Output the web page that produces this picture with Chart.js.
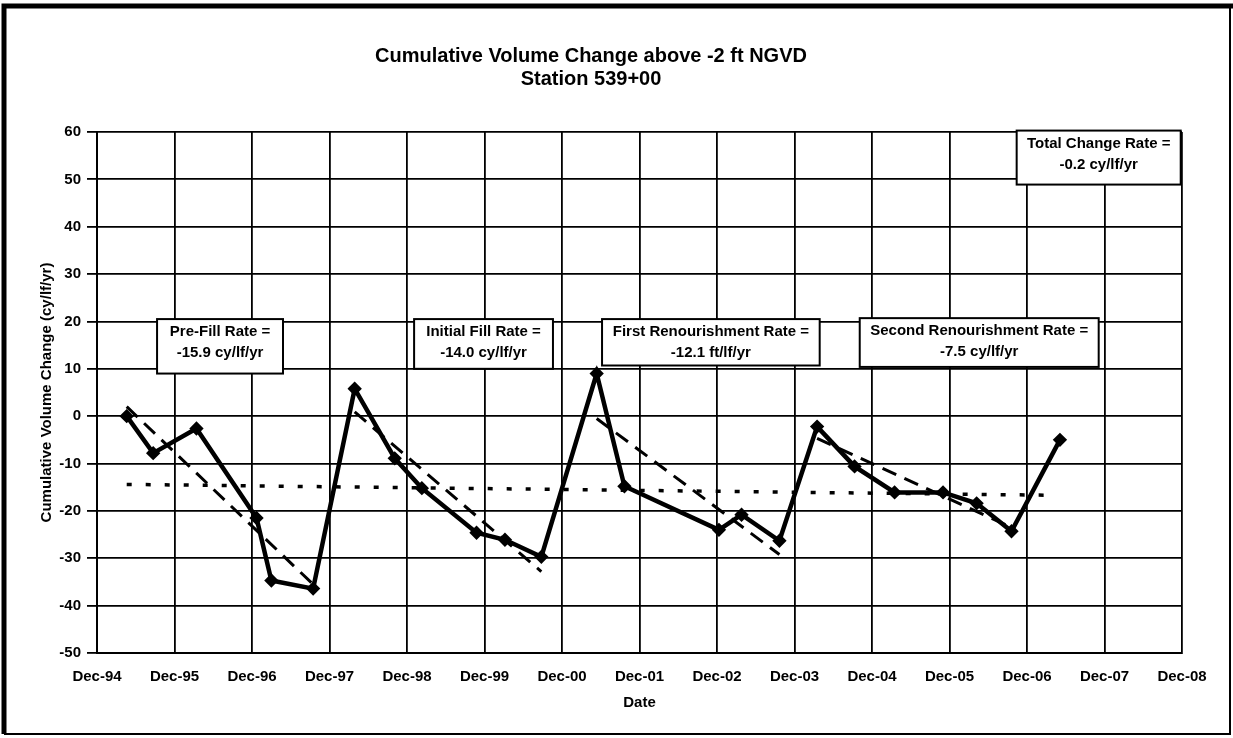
<!DOCTYPE html>
<html>
<head>
<meta charset="utf-8">
<script src="https://cdn.jsdelivr.net/npm/chart.js@4.4.0/dist/chart.umd.min.js"></script>
<style>
  html, body { margin: 0; padding: 0; background: #fff; }
  #wrap { width: 1233px; height: 738px; }
</style>
</head>
<body>
<div id="wrap"><canvas id="volChart" width="1233" height="738"></canvas></div>
<script>
// --- survey dates and cumulative volume change (cy/lf/yr)
const surveyDates = [
  "1995-04-19", "1995-08-22", "1996-03-13", "1996-12-22", "1997-03-01",
  "1997-09-15", "1998-03-28", "1998-10-04", "1999-02-10", "1999-10-24",
  "2000-03-06", "2000-08-25", "2001-05-12", "2001-09-21", "2002-12-10",
  "2003-03-25", "2003-09-21", "2004-03-16", "2004-09-10", "2005-03-16",
  "2005-11-01", "2006-04-07", "2006-09-19", "2007-05-04"
];
const volumeChange = [
  0, -7.8, -2.6, -21.5, -34.7,
  -36.4, 5.8, -8.9, -15.2, -24.6,
  -26.1, -29.7, 9.0, -14.8, -24.0,
  -20.8, -26.3, -2.2, -10.6, -16.1,
  -16.1, -18.4, -24.3, -5.0
];

// --- fitted rate lines (end points)
const preFillDates = ["1995-04-19", "1997-09-15"];
const preFillTrend = [2.0, -35.5];
const initialFillDates = ["1998-03-28", "2000-08-25"];
const initialFillTrend = [0.9, -32.8];
const firstRenourDates = ["2001-05-12", "2003-09-21"];
const firstRenourTrend = [-0.5, -29.2];
const secondRenourDates = ["2004-03-16", "2006-09-19"];
const secondRenourTrend = [-4.7, -23.5];
const totalDates = ["1995-04-19", "2007-04-16"];
const totalTrend = [-14.4, -16.7];

// --- axis labels
const xTickLabels = [
  "Dec-94", "Dec-95", "Dec-96", "Dec-97", "Dec-98", "Dec-99", "Dec-00",
  "Dec-01", "Dec-02", "Dec-03", "Dec-04", "Dec-05", "Dec-06", "Dec-07", "Dec-08"
];
const yMin = -50;
const yMax = 60;

// --- rate boxes: text plus placement in axis units (months, cy/lf/yr)
const rateBoxes = [
  { lines: ["Pre-Fill Rate =", "-15.9 cy/lf/yr"], x0: 9.3, x1: 28.8, yTop: 20.5, yBot: 9.0 },
  { lines: ["Initial Fill Rate =", "-14.0 cy/lf/yr"], x0: 49.1, x1: 70.6, yTop: 20.5, yBot: 10.0 },
  { lines: ["First Renourishment Rate =", "-12.1 ft/lf/yr"], x0: 78.2, x1: 111.9, yTop: 20.5, yBot: 10.7 },
  { lines: ["Second Renourishment Rate =", "-7.5 cy/lf/yr"], x0: 118.1, x1: 155.1, yTop: 20.7, yBot: 10.4 },
  { lines: ["Total Change Rate =", "-0.2 cy/lf/yr"], x0: 142.4, x1: 167.8, yTop: 60.3, yBot: 48.9 }
];

const FONT = "'Liberation Sans', Arial, sans-serif";

function monthsFromDec94(s) {
  const [y, m, d] = s.split("-").map(Number);
  return (y - 1994) * 12 + (m - 12) + (d - 1) / 30;
}

function toPoints(dates, vals) {
  return dates.map((d, i) => ({ x: monthsFromDec94(d), y: vals[i] }));
}

function trendSet(dates, vals, dash, width) {
  return {
    data: toPoints(dates, vals),
    borderColor: "#000",
    borderWidth: width,
    borderDash: dash,
    pointRadius: 0,
    fill: false
  };
}

// frame round the whole picture + the white rate boxes
const extrasPlugin = {
  id: "extras",
  beforeDraw(chart) {
    const ctx = chart.ctx;
    ctx.save();
    ctx.fillStyle = "#fff";
    ctx.fillRect(0, 0, chart.width, chart.height);
    ctx.strokeStyle = "#000";
    ctx.lineWidth = 5;
    ctx.beginPath();
    ctx.moveTo(4, chart.height - 4);
    ctx.lineTo(4, 6);
    ctx.lineTo(chart.width, 6);
    ctx.stroke();
    ctx.lineWidth = 2;
    ctx.beginPath();
    ctx.moveTo(4, chart.height - 4);
    ctx.lineTo(chart.width - 3, chart.height - 4);
    ctx.lineTo(chart.width - 3, 6);
    ctx.stroke();
    ctx.restore();
  },
  afterDatasetsDraw(chart) {
    const ctx = chart.ctx;
    const xs = chart.scales.x;
    const ys = chart.scales.y;
    ctx.save();
    rateBoxes.forEach(b => {
      const left = xs.getPixelForValue(b.x0);
      const right = xs.getPixelForValue(b.x1);
      const top = ys.getPixelForValue(b.yTop);
      const bot = ys.getPixelForValue(b.yBot);
      ctx.fillStyle = "#fff";
      ctx.fillRect(left, top, right - left, bot - top);
      ctx.strokeStyle = "#000";
      ctx.lineWidth = 2;
      ctx.strokeRect(left, top, right - left, bot - top);
      ctx.fillStyle = "#000";
      ctx.font = "bold 15px " + FONT;
      ctx.textAlign = "center";
      ctx.textBaseline = "middle";
      const cx = (left + right) / 2;
      ctx.fillText(b.lines[0], cx, top + 13);
      ctx.fillText(b.lines[1], cx, top + 34);
    });
    ctx.restore();
  }
};

new Chart(document.getElementById("volChart"), {
  type: "line",
  data: {
    datasets: [
      {
        data: toPoints(surveyDates, volumeChange),
        borderColor: "#000",
        borderWidth: 4.5,
        pointStyle: "rectRot",
        pointRadius: 4,
        pointBackgroundColor: "#000",
        pointBorderColor: "#000",
        tension: 0,
        fill: false
      },
      trendSet(preFillDates, preFillTrend, [15, 9], 3),
      trendSet(initialFillDates, initialFillTrend, [15, 9], 3),
      trendSet(firstRenourDates, firstRenourTrend, [15, 9], 3),
      trendSet(secondRenourDates, secondRenourTrend, [15, 9], 3),
      trendSet(totalDates, totalTrend, [5, 14], 3.5)
    ]
  },
  options: {
    responsive: false,
    animation: false,
    devicePixelRatio: 1,
    layout: { padding: { left: 0, right: 51, top: 0, bottom: 0 } },
    plugins: {
      legend: { display: false },
      tooltip: { enabled: false },
      title: {
        display: true,
        text: ["Cumulative Volume Change above -2 ft NGVD", "Station 539+00"],
        color: "#000",
        font: { family: FONT, size: 20, weight: "bold", lineHeight: 1.15 },
        padding: { top: 45, bottom: 41 }
      }
    },
    scales: {
      x: {
        type: "linear",
        min: 0,
        max: 168,
        afterFit: s => { s.height = 85; },
        ticks: {
          stepSize: 12,
          color: "#000",
          padding: 15,
          font: { family: FONT, size: 15, weight: "bold" },
          callback: v => xTickLabels[Math.round(v / 12)]
        },
        grid: { color: "#000", lineWidth: 1.8, drawTicks: false },
        border: { color: "#000", width: 2 },
        title: {
          display: true,
          text: "Date",
          color: "#000",
          font: { family: FONT, size: 15, weight: "bold" },
          padding: { bottom: 26 }
        }
      },
      y: {
        min: yMin,
        max: yMax,
        afterFit: s => { s.width = 97; },
        ticks: {
          stepSize: 10,
          color: "#000",
          padding: 6,
          font: { family: FONT, size: 15, weight: "bold" }
        },
        grid: { color: "#000", lineWidth: 1.8, tickLength: 10 },
        border: { color: "#000", width: 2 },
        title: {
          display: true,
          text: "Cumulative Volume Change (cy/lf/yr)",
          color: "#000",
          font: { family: FONT, size: 15, weight: "bold" },
          padding: { top: 38 }
        }
      }
    }
  },
  plugins: [extrasPlugin]
});
</script>
</body>
</html>
